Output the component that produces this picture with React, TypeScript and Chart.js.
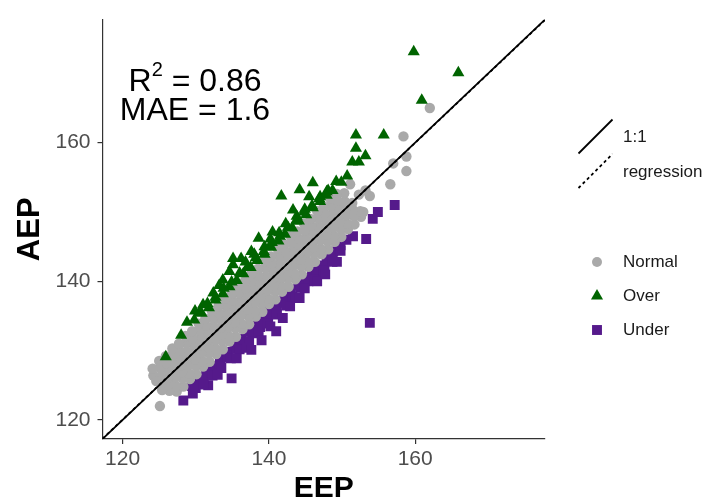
import React, { useEffect, useRef } from "react";
import { Chart, registerables } from "chart.js";

Chart.register(...registerables);

const FONT = '"Liberation Sans", Arial, Helvetica, sans-serif';

// ---- axes ----
const axisMin = 117.25;
const axisMax = 177.75;
const xTickValues = [120, 140, 160];
const yTickValues = [120, 140, 160];
const xTitle = "EEP";
const yTitle = "AEP";

// ---- statistics ----
const r2Value = "0.86";
const maeValue = "1.6";

// ---- legend ----
const lineLegend = ["1:1", "regression"];
const groupLegend = ["Normal", "Over", "Under"];
const groupColors = ["#A9A9A9", "#006400", "#551A8B"];

// ---- reference lines [EEP, AEP] ----
const identityLine: [number, number][] = [[117.25, 117.25], [177.75, 177.75]];
const regressionLine: [number, number][] = [[117.25, 117.3], [177.75, 177.7]];

// ---- points [EEP, AEP] ----
const normalPoints: [number, number][] = [
  [127.4, 124.1], [128.3, 124.8], [129.2, 125.9], [130.1, 126.6], [131.0, 127.7], [131.9, 128.4], [132.8, 129.5], [133.7, 130.2],
  [134.6, 131.3], [135.5, 132.0], [136.4, 133.1], [137.3, 133.8], [138.2, 134.9], [139.1, 135.6], [140.0, 136.7], [140.9, 137.4],
  [141.8, 138.5], [142.7, 139.2], [143.6, 140.3], [144.5, 141.0], [145.4, 142.1], [146.3, 142.8], [147.2, 143.9], [148.1, 144.6],
  [149.0, 145.7], [149.9, 146.4], [150.8, 147.5], [151.7, 148.2], [152.6, 149.3],
  [126.4, 124.2], [127.3, 124.9], [128.2, 126.0], [129.1, 126.7], [130.0, 127.8], [130.9, 128.5], [131.8, 129.6], [132.7, 130.3],
  [133.6, 131.4], [134.5, 132.1], [135.4, 133.2], [136.3, 133.9], [137.2, 135.0], [138.1, 135.7], [139.0, 136.8], [139.9, 137.5],
  [140.8, 138.6], [141.7, 139.3], [142.6, 140.4], [143.5, 141.1], [144.4, 142.2], [145.3, 142.9], [146.2, 144.0], [147.1, 144.7],
  [148.0, 145.8], [148.9, 146.5], [149.8, 147.6], [150.7, 148.3], [151.6, 149.4], [152.5, 150.1],
  [125.4, 124.3], [126.3, 125.1], [127.2, 126.1], [128.1, 126.9], [129.0, 127.9], [129.9, 128.7], [130.8, 129.7], [131.7, 130.5],
  [132.6, 131.5], [133.5, 132.3], [134.4, 133.3], [135.3, 134.1], [136.2, 135.1], [137.1, 135.9], [138.0, 136.9], [138.9, 137.7],
  [139.8, 138.7], [140.7, 139.5], [141.6, 140.5], [142.5, 141.3], [143.4, 142.3], [144.3, 143.1], [145.2, 144.1], [146.1, 144.9],
  [147.0, 145.9], [147.9, 146.7], [148.8, 147.7], [149.7, 148.5], [150.6, 149.5], [151.5, 150.3],
  [125.3, 125.4], [126.2, 126.1], [127.1, 127.2], [128.0, 127.9], [128.9, 129.0], [129.8, 129.7], [130.7, 130.8], [131.6, 131.5],
  [132.5, 132.6], [133.4, 133.3], [134.3, 134.4], [135.2, 135.1], [136.1, 136.2], [137.0, 136.9], [137.9, 138.0], [138.8, 138.7],
  [139.7, 139.8], [140.6, 140.5], [141.5, 141.6], [142.4, 142.3], [143.3, 143.4], [144.2, 144.1], [145.1, 145.2], [146.0, 145.9],
  [146.9, 147.0], [147.8, 147.7], [148.7, 148.8], [149.6, 149.5], [150.5, 150.6], [151.4, 151.3],
  [125.2, 126.3], [126.1, 127.3], [127.0, 128.1], [127.9, 129.1], [128.8, 129.9], [129.7, 130.9], [130.6, 131.7], [131.5, 132.7],
  [132.4, 133.5], [133.3, 134.5], [134.2, 135.3], [135.1, 136.3], [136.0, 137.1], [136.9, 138.1], [137.8, 138.9], [138.7, 139.9],
  [139.6, 140.7], [140.5, 141.7], [141.4, 142.5], [142.3, 143.5], [143.2, 144.3], [144.1, 145.3], [145.0, 146.1], [145.9, 147.1],
  [146.8, 147.9], [147.7, 148.9], [148.6, 149.7], [149.5, 150.7], [150.4, 151.5],
  [124.2, 126.4], [125.1, 127.5], [126.0, 128.2], [126.9, 129.3], [127.8, 130.0], [128.7, 131.1], [129.6, 131.8], [130.5, 132.9],
  [131.4, 133.6], [132.3, 134.7], [133.2, 135.4], [134.1, 136.5], [135.0, 137.2], [135.9, 138.3], [136.8, 139.0], [137.7, 140.1],
  [138.6, 140.8], [139.5, 141.9], [140.4, 142.6], [141.3, 143.7], [142.2, 144.4], [143.1, 145.5], [144.0, 146.2], [144.9, 147.3],
  [145.8, 148.0], [146.7, 149.1], [147.6, 149.8], [148.5, 150.9], [149.4, 151.6], [150.3, 152.7],
  [124.1, 127.4], [125.0, 128.5], [125.9, 129.2], [126.8, 130.3], [127.7, 131.0], [128.6, 132.1], [129.5, 132.8], [130.4, 133.9],
  [131.3, 134.6], [132.2, 135.7], [133.1, 136.4], [134.0, 137.5], [134.9, 138.2], [135.8, 139.3], [136.7, 140.0], [137.6, 141.1],
  [138.5, 141.8], [139.4, 142.9], [140.3, 143.6], [141.2, 144.7], [142.1, 145.4], [143.0, 146.5], [143.9, 147.2], [144.8, 148.3],
  [145.7, 149.0], [146.6, 150.1], [147.5, 150.8], [148.4, 151.9], [149.3, 152.6],
  [125.1, 122.0], [124.6, 125.6], [152.3, 152.5], [153.2, 153.1], [153.8, 152.3], [152.9, 150.0], [151.1, 154.0],
  [156.6, 154.0], [157.0, 157.0], [158.8, 155.9], [158.8, 158.0], [158.4, 160.9], [162.0, 165.0],
];

const overPoints: [number, number][] = [
  [125.9, 129.1], [128.0, 132.2], [128.8, 134.1],
  [129.8, 134.4], [130.8, 135.4], [131.8, 136.2], [132.7, 137.3], [133.7, 138.2], [134.6, 139.2], [135.6, 140.1], [136.5, 141.1],
  [137.5, 142.0], [138.4, 143.0], [139.4, 143.9], [140.3, 144.9], [141.3, 145.8], [142.2, 146.8], [143.2, 147.7], [144.1, 148.7],
  [145.1, 149.6], [146.0, 150.6], [147.0, 151.5], [147.9, 152.4], [148.7, 153.1], [149.9, 154.3], [150.7, 155.2],
  [130.5, 135.5], [131.6, 136.8], [132.7, 137.7], [133.8, 139.0], [134.9, 139.9], [136.0, 141.2], [137.1, 142.1], [138.2, 143.4],
  [139.3, 144.3], [140.4, 145.6], [141.5, 146.5], [142.6, 147.8], [143.7, 148.7], [144.8, 150.0], [145.9, 150.9], [147.0, 152.2],
  [148.1, 153.1], [149.2, 154.4],
  [129.9, 135.7], [131.0, 136.6], [132.4, 138.3], [133.2, 139.4], [133.7, 140.2], [134.6, 141.4], [135.1, 142.4], [136.8, 142.8],
  [138.0, 143.9], [139.4, 145.0], [140.2, 146.1], [141.4, 147.0], [142.3, 148.3], [143.8, 149.4], [144.9, 150.4], [146.9, 151.9],
  [147.9, 152.9],
  [135.1, 143.3], [136.2, 143.3], [137.6, 144.3], [138.6, 146.2], [140.5, 147.1], [141.7, 152.3], [143.3, 150.3], [144.2, 153.2],
  [145.5, 152.2], [146.0, 154.2],
  [151.4, 157.2], [152.3, 157.2], [153.2, 158.1], [151.9, 159.2], [151.9, 161.1], [155.7, 161.1], [160.9, 166.1], [165.9, 170.1],
  [159.8, 173.1],
];

const underPoints: [number, number][] = [
  [128.3, 122.8], [129.6, 123.8], [131.7, 125.0], [134.9, 126.0],
  [129.5, 124.9], [130.5, 125.9], [131.4, 126.9], [132.4, 127.8], [133.4, 128.8], [134.3, 129.8], [135.3, 130.7], [136.3, 131.7],
  [137.2, 132.7], [138.2, 133.6], [139.2, 134.6], [140.1, 135.6], [141.1, 136.5], [142.1, 137.5], [143.0, 138.5], [144.0, 139.4],
  [145.0, 140.4], [145.9, 141.4], [146.9, 142.3], [147.9, 143.3], [148.8, 144.3], [149.8, 145.2], [150.6, 146.0],
  [130.0, 124.6], [131.1, 125.9], [132.2, 126.8], [133.3, 128.1], [134.4, 129.0], [135.5, 130.3], [136.6, 131.2], [137.7, 132.5],
  [138.8, 133.4], [139.9, 134.7], [141.0, 135.6], [142.1, 136.9], [143.2, 137.8], [144.3, 139.1], [145.4, 140.0], [146.5, 141.3],
  [147.6, 142.2], [148.7, 143.5], [149.8, 144.4],
  [131.0, 125.1], [132.3, 126.4], [133.5, 127.5], [134.8, 128.9], [136.0, 130.2], [137.3, 131.3], [138.6, 132.7], [139.8, 133.9],
  [141.1, 135.2], [142.4, 136.5], [143.6, 137.7], [144.9, 139.0], [146.2, 140.3], [147.5, 141.6], [148.7, 142.8],
  [133.0, 126.5], [135.6, 128.9], [136.9, 130.4], [140.2, 133.5], [142.9, 136.4], [144.2, 137.6], [146.6, 140.0], [149.3, 142.8],
  [137.6, 130.1], [139.0, 131.5], [141.0, 132.8], [141.9, 134.7], [147.7, 141.0],
  [153.8, 134.0], [153.3, 146.1], [154.2, 149.0], [154.9, 150.0], [157.2, 151.0], [151.5, 146.5],
];

const toXY = (pts: [number, number][]) => pts.map(([x, y]) => ({ x, y }));

const overlayPlugin = {
  id: "overlay",
  afterDraw(chart: any) {
    const ctx: CanvasRenderingContext2D = chart.ctx;
    const xs = chart.scales.x;
    const ys = chart.scales.y;
    ctx.save();

    // statistics annotation
    const cx = xs.getPixelForValue(129.9);
    const b1 = ys.getPixelForValue(167.5);
    const b2 = ys.getPixelForValue(163.3);
    ctx.fillStyle = "#000000";
    ctx.textBaseline = "alphabetic";
    ctx.textAlign = "left";
    ctx.font = `32px ${FONT}`;
    const wR = ctx.measureText("R").width;
    const rest = " = " + r2Value;
    const wRest = ctx.measureText(rest).width;
    ctx.font = `20px ${FONT}`;
    const wSup = ctx.measureText("2").width;
    const total = wR + wSup + wRest;
    const x0 = cx - total / 2;
    ctx.font = `32px ${FONT}`;
    ctx.fillText("R", x0, b1);
    ctx.font = `20px ${FONT}`;
    ctx.fillText("2", x0 + wR, b1 - 15);
    ctx.font = `32px ${FONT}`;
    ctx.fillText(rest, x0 + wR + wSup, b1);
    ctx.textAlign = "center";
    ctx.fillText("MAE = " + maeValue, cx, b2);

    // legend: lines
    ctx.strokeStyle = "#000000";
    ctx.lineWidth = 1.8;
    ctx.beginPath();
    ctx.moveTo(578.5, 153.5);
    ctx.lineTo(612.5, 119.5);
    ctx.stroke();
    ctx.setLineDash([3, 3]);
    ctx.beginPath();
    ctx.moveTo(578.5, 188);
    ctx.lineTo(612.5, 154);
    ctx.stroke();
    ctx.setLineDash([]);

    ctx.font = `17px ${FONT}`;
    ctx.fillStyle = "#1A1A1A";
    ctx.textAlign = "left";
    ctx.textBaseline = "middle";
    ctx.fillText(lineLegend[0], 623, 137);
    ctx.fillText(lineLegend[1], 623, 172);

    // legend: groups
    const kx = 597;
    const rows = [262, 296, 330];
    ctx.fillStyle = groupColors[0];
    ctx.beginPath();
    ctx.arc(kx, rows[0], 5, 0, Math.PI * 2);
    ctx.fill();
    ctx.fillStyle = groupColors[1];
    ctx.beginPath();
    const r = 7;
    for (let i = 0; i < 3; i++) {
      const a = (i * 2 * Math.PI) / 3;
      const px = kx + Math.sin(a) * r;
      const py = rows[1] - Math.cos(a) * r;
      if (i === 0) ctx.moveTo(px, py);
      else ctx.lineTo(px, py);
    }
    ctx.closePath();
    ctx.fill();
    ctx.fillStyle = groupColors[2];
    const s = 7 * Math.SQRT1_2;
    ctx.fillRect(kx - s, rows[2] - s, 2 * s, 2 * s);

    ctx.fillStyle = "#1A1A1A";
    groupLegend.forEach((t, i) => ctx.fillText(t, 623, rows[i]));
    ctx.restore();
  },
};

export default function App() {
  const ref = useRef<HTMLCanvasElement | null>(null);
  useEffect(() => {
    document.body.style.margin = "0";
    const canvas = ref.current;
    if (!canvas) return;
    const axisStyle = (ticks: number[]) => ({
      type: "linear" as const,
      min: axisMin,
      max: axisMax,
      afterBuildTicks: (s: any) => {
        s.ticks = ticks.map((v) => ({ value: v }));
      },
      grid: {
        display: true,
        drawOnChartArea: false,
        drawTicks: true,
        tickLength: 5,
        color: "#333333",
        lineWidth: 1.2,
      },
      border: { display: true, color: "#333333", width: 1.2 },
    });
    const chart = new Chart(canvas, {
      type: "scatter",
      data: {
        datasets: [
          {
            type: "line",
            label: lineLegend[0],
            data: toXY(identityLine),
            borderColor: "#000000",
            borderWidth: 1.8,
            pointRadius: 0,
            fill: false,
            order: 0,
          } as any,
          {
            type: "line",
            label: lineLegend[1],
            data: toXY(regressionLine),
            borderColor: "#000000",
            borderWidth: 1.8,
            borderDash: [3, 3],
            pointRadius: 0,
            fill: false,
            order: 1,
          } as any,
          {
            label: groupLegend[0],
            data: toXY(normalPoints),
            pointStyle: "circle",
            pointRadius: 5.2,
            backgroundColor: groupColors[0],
            borderWidth: 0,
            order: 3,
          },
          {
            label: groupLegend[1],
            data: toXY(overPoints),
            pointStyle: "triangle",
            pointRadius: 7,
            backgroundColor: groupColors[1],
            borderWidth: 0,
            order: 2,
          },
          {
            label: groupLegend[2],
            data: toXY(underPoints),
            pointStyle: "rect",
            pointRadius: 7,
            backgroundColor: groupColors[2],
            borderWidth: 0,
            order: 4,
          },
        ],
      },
      options: {
        responsive: false,
        animation: false,
        devicePixelRatio: 1,
        events: [],
        layout: { padding: { left: 0, right: 162, top: 16, bottom: 0 } },
        plugins: { legend: { display: false }, tooltip: { enabled: false } },
        scales: {
          x: {
            ...axisStyle(xTickValues),
            afterFit: (s: any) => {
              s.height = 63;
            },
            ticks: {
              color: "#4D4D4D",
              font: { family: FONT, size: 21 },
              padding: 3,
              autoSkip: false,
              maxRotation: 0,
            },
            title: {
              display: true,
              text: xTitle,
              color: "#000000",
              font: { family: FONT, size: 30, weight: "bold", lineHeight: "26px" },
              padding: { top: 0, bottom: 0 },
            },
          },
          y: {
            ...axisStyle(yTickValues),
            afterFit: (s: any) => {
              s.width = 102.5;
            },
            ticks: {
              color: "#4D4D4D",
              font: { family: FONT, size: 21 },
              padding: 7,
              autoSkip: false,
            },
            title: {
              display: true,
              text: yTitle,
              color: "#000000",
              font: { family: FONT, size: 31, weight: "bold", lineHeight: "30px" },
              padding: { top: 15.5, bottom: 0 },
            },
          },
        },
      } as any,
      plugins: [overlayPlugin],
    });
    return () => chart.destroy();
  }, []);
  return <canvas ref={ref} width={707} height={502} style={{ display: "block" }} />;
}
